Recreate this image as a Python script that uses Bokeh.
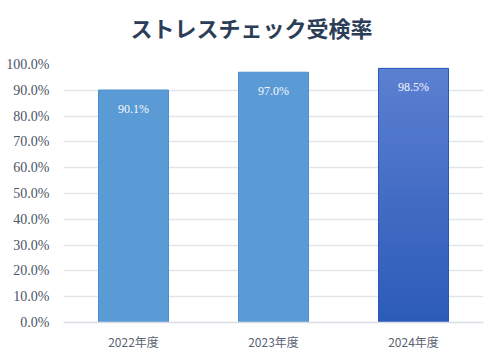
from bokeh.plotting import figure
from bokeh.models import (ColumnDataSource, FactorRange, Range1d, FixedTicker,
                          PrintfTickFormatter, LabelSet, Title)
from bokeh.embed import file_html
from bokeh.resources import INLINE

# ---- data ----
title_text = "ストレスチェック受検率"
categories = ["2022年度", "2023年度", "2024年度"]
rates = [90.1, 97.0, 98.5]
y_ticks = [0, 10, 20, 30, 40, 50, 60, 70, 80, 90, 100]

plain_color = "#5b9bd5"
plain_line = "#4d8fd0"
grad_top = "#5c80d1"
grad_bottom = "#2b5bb8"
highlight_index = 2

p = figure(x_range=FactorRange(*categories, range_padding=0),
           y_range=Range1d(0, 100),
           width=500, height=362,
           output_backend="svg", toolbar_location=None,
           min_border_left=63, min_border_right=17,
           min_border_top=64, min_border_bottom=40,
           background_fill_color="white", border_fill_color="white",
           outline_line_color=None)

# spacer between frame and title, then the title itself
p.add_layout(Title(text=" ", text_font_size="13px", standoff=0), "above")
p.add_layout(Title(text=title_text, align="left", offset=67,
                   text_font="Noto Sans CJK JP", text_font_size="22px",
                   text_font_style="bold", text_color="#2c3d57"), "above")

# plain bars
plain_cats = [c for i, c in enumerate(categories) if i != highlight_index]
plain_vals = [v for i, v in enumerate(rates) if i != highlight_index]
p.vbar(x=plain_cats, top=plain_vals, width=0.5,
       fill_color=plain_color, line_color=plain_line, line_width=1)

# gradient bar built from overlapping slices
def hex2rgb(h):
    h = h.lstrip("#")
    return tuple(int(h[i:i + 2], 16) for i in (0, 2, 4))

def rgb2hex(c):
    return "#%02x%02x%02x" % tuple(int(round(v)) for v in c)

n = 80
hv = rates[highlight_index]
hc = categories[highlight_index]
t0 = hex2rgb(grad_top)
b0 = hex2rgb(grad_bottom)
bots, tops, cols = [], [], []
for k in range(n):
    lo = hv * k / n
    hi = min(hv, hv * (k + 2) / n)
    f = (k + 0.5) / n
    cols.append(rgb2hex(tuple(b0[j] + (t0[j] - b0[j]) * f for j in range(3))))
    bots.append(lo)
    tops.append(hi)
p.vbar(x=[hc] * n, bottom=bots, top=tops, width=0.5,
       fill_color=cols, line_color=None)
p.vbar(x=[hc], top=[hv], width=0.5, fill_color=None,
       line_color="#2a58c0", line_width=1)

# value labels
src = ColumnDataSource(dict(x=categories, y=rates,
                            t=["%.1f%%" % v for v in rates]))
labels = LabelSet(x="x", y="y", text="t", source=src,
                  text_align="center", text_baseline="top", y_offset=-12,
                  text_color="#f4f7fc", text_font="Noto Sans",
                  text_font_size="12px")
p.add_layout(labels)

# axes
p.yaxis.ticker = FixedTicker(ticks=y_ticks)
p.yaxis.formatter = PrintfTickFormatter(format="%.1f%%")
p.yaxis.axis_line_color = None
p.yaxis.major_tick_line_color = None
p.yaxis.minor_tick_line_color = None
p.yaxis.major_label_standoff = 8
p.yaxis.major_label_text_font = "Liberation Serif"
p.yaxis.major_label_text_font_size = "14px"
p.yaxis.major_label_text_color = "#4a5466"

p.xaxis.axis_line_color = "#dadee4"
p.xaxis.axis_line_width = 1.5
p.xaxis.major_tick_line_color = None
p.xaxis.minor_tick_line_color = None
p.xaxis.major_label_standoff = 4
p.xaxis.major_label_text_font = "Noto Sans CJK JP"
p.xaxis.major_label_text_font_size = "12px"
p.xaxis.major_label_text_color = "#5b6373"

p.xgrid.grid_line_color = None
p.ygrid.grid_line_color = "#e2e5ea"
p.ygrid.grid_line_width = 1.5

open("out.html", "w").write(file_html(p, INLINE))
